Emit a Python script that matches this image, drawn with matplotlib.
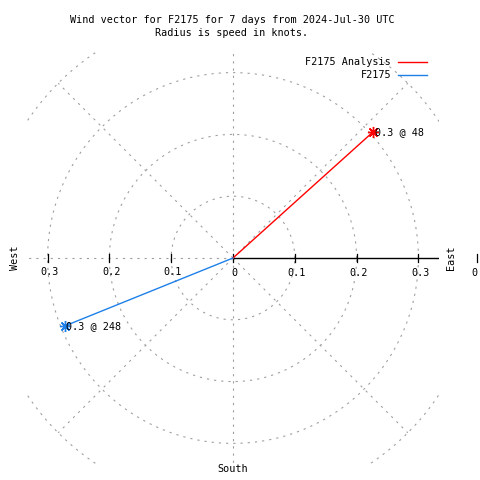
import numpy as np
import matplotlib
matplotlib.use("Agg")
import matplotlib.pyplot as plt

# ---- data ----
series_names = ["F2175 Analysis", "F2175"]
speeds = [0.305, 0.294]          # knots
directions = [48, 248]           # degrees, clockwise from north
series_colors = ["#ff0000", "#1e80e8"]
speed_labels = ["0.3", "0.3"]
ring_radii = [0.1, 0.2, 0.3, 0.4]
spoke_angles = [45, 90, 135, 180, 225, 270, 315]
left_ticks = [-0.3, -0.2, -0.1]
left_tick_labels = ["0.3", "0.2", "0.1"]
right_ticks = [0.0, 0.1, 0.2, 0.3]
right_tick_labels = ["0", "0.1", "0.2", "0.3"]
edge_tick = 0.395
edge_tick_label = "0"
title_lines = ["Wind vector for F2175 for 7 days from 2024-Jul-30 UTC",
               "Radius is speed in knots."]

MONO = "DejaVu Sans Mono"
FS = 7.3
GRID = "#a0a0a0"
LIM = 1 / 3

fig = plt.figure(figsize=(4.8, 4.8), dpi=100)
ax = fig.add_axes([27 / 480, 16 / 480, 412 / 480, 412 / 480])
ax.set_xlim(-LIM, LIM)
ax.set_ylim(-LIM, LIM)
ax.set_aspect("equal")
ax.axis("off")

dash = (0, (2.0, 4.5))
# rings
t = np.linspace(0, 2 * np.pi, 721)
for r in ring_radii:
    ax.plot(r * np.cos(t), r * np.sin(t), color=GRID, lw=0.8, ls=dash)
# spokes
for a in spoke_angles:
    ar = np.deg2rad(a)
    ax.plot([0, 0.4 * np.cos(ar)], [0, 0.4 * np.sin(ar)], color=GRID, lw=0.8, ls=dash)
# east axis (solid black)
ax.plot([0, LIM], [0, 0], color="black", lw=1.0)

# ticks
for x in left_ticks + right_ticks + [edge_tick]:
    ax.plot([x, x], [-0.007, 0.007], color="black", lw=0.9, clip_on=False)
for x, lab in zip(left_ticks, left_tick_labels):
    ax.text(x + 0.003, -0.023, lab, ha="center", va="center", family=MONO,
            fontsize=FS, clip_on=False)
for x, lab in zip(right_ticks, right_tick_labels):
    ax.text(x + 0.003, -0.024, lab, ha="center", va="center",
            family=MONO, fontsize=FS, clip_on=False)
ax.text(edge_tick - 0.004, -0.024, edge_tick_label, ha="center", va="center",
        family=MONO, fontsize=FS, clip_on=False)

# compass labels
ax.text(-0.353, 0, "West", rotation=90, ha="center", va="center", family=MONO,
        fontsize=FS, clip_on=False)
ax.text(0.352, 0, "East", rotation=90, ha="center", va="center", family=MONO,
        fontsize=FS, clip_on=False)
ax.text(0, -0.342, "South", ha="center", va="center", family=MONO,
        fontsize=FS, clip_on=False)

# vectors
for name, s, d, c, lab in zip(series_names, speeds, directions, series_colors, speed_labels):
    dr = np.deg2rad(d)
    x, y = s * np.sin(dr), s * np.cos(dr)
    ax.plot([0, x], [0, y], color=c, lw=1.0)
    ax.plot([x], [y], marker=(8, 2, 0), color=c, ms=8, mew=1.0, clip_on=False)
    ax.text(x + 0.003, y, f"{lab} @ {d}", ha="left", va="center", family=MONO,
            fontsize=FS, clip_on=False)

# title
for i, line in enumerate(title_lines):
    fig.text(232 / 480, 1 - (20 + 13 * i) / 480, line, ha="center", va="center",
             family=MONO, fontsize=FS)

# legend
for i, (name, c) in enumerate(zip(series_names, series_colors)):
    yy = 1 - (62 + 13 * i) / 480
    fig.text(391 / 480, yy, name, ha="right", va="center", family=MONO, fontsize=FS)
    fig.add_artist(plt.Line2D([398 / 480, 427 / 480], [yy, yy], color=c, lw=1.0,
                              transform=fig.transFigure))

fig.savefig("out.png", dpi=100)
